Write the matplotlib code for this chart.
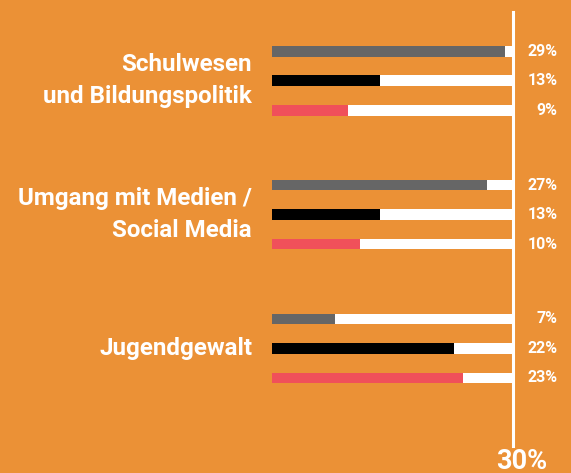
import matplotlib.pyplot as plt
import numpy as np

categories = ["Schulwesen\nund Bildungspolitik", "Umgang mit Medien /\nSocial Media", "Jugendgewalt"]
# bar lengths (labels show the rounded values)
grey_vals = [29.1, 26.9, 7.9]
black_vals = [13.5, 13.5, 22.75]
red_vals = [9.5, 11.0, 23.9]
grey_labels = ["29%", "27%", "7%"]
black_labels = ["13%", "13%", "22%"]
red_labels = ["9%", "10%", "23%"]
max_val = 30

ORANGE = "#EB9136"
GREY = "#666666"
BLACK = "#000000"
RED = "#F0505A"

plt.rcParams['font.family'] = ['Roboto', 'DejaVu Sans']

fig = plt.figure(figsize=(5.71, 4.73), dpi=100, facecolor=ORANGE)
ax = fig.add_axes([272/571, 0, 240/571, 1])
ax.set_facecolor(ORANGE)
ax.set_xlim(0, max_val)
ax.set_ylim(14.3, -1.73)
ax.axis("off")

group_step = 4.54
bar_h = 0.37
series = [(grey_vals, grey_labels, GREY),
          (black_vals, black_labels, BLACK),
          (red_vals, red_labels, RED)]

for g, cat in enumerate(categories):
    base = g * group_step
    for i, (vals, labels, col) in enumerate(series):
        y = base + i
        ax.barh(y, max_val, height=bar_h, color="white", zorder=1)
        ax.barh(y, vals[g], height=bar_h, color=col, zorder=2)
        ax.text(35.7, y, labels[g], ha="right", va="center", color="white",
                fontsize=11.5, fontweight="bold", clip_on=False)
    ax.text(-2.5, base + 1, cat, ha="right", va="center", color="white",
            fontsize=17.4, fontweight="bold", linespacing=1.5, clip_on=False)

vline = ax.axvline(max_val + 0.12, ymin=1 - 446/473, ymax=1 - 12/473,
                   color="white", lw=2.2, zorder=3)
vline.set_clip_on(False)
ax.text(max_val + 1.2, 13.92, f"{max_val}%", ha="center", va="center", color="white",
        fontsize=19.5, fontweight="bold", clip_on=False)

fig.savefig("out.png", dpi=100, facecolor=ORANGE)
